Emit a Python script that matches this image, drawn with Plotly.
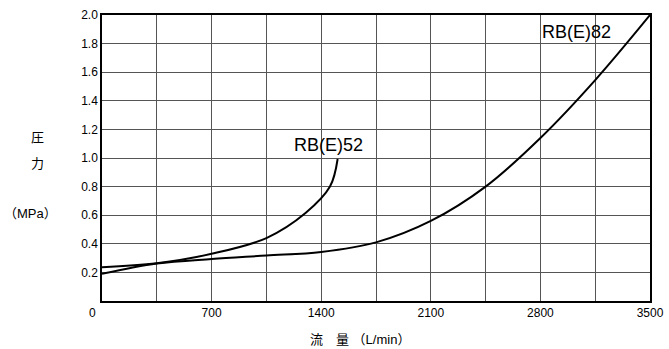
import plotly.graph_objects as go

# Data
flow_52 = [0, 350, 700, 1050, 1300, 1456, 1505]
pres_52 = [0.236, 0.264, 0.33, 0.44, 0.615, 0.80, 0.993]

flow_82 = [0, 350, 700, 1050, 1400, 1750, 2100, 2450, 2800, 3150, 3500]
pres_82 = [0.19, 0.262, 0.294, 0.318, 0.343, 0.41, 0.56, 0.80, 1.14, 1.545, 2.0]

x_grid = list(range(0, 3501, 350))
x_ticktext = ["" if (v == 0 or v % 700) else str(v) for v in x_grid]
y_grid = [round(0.2 * i, 1) for i in range(1, 11)]

FONT = "Liberation Sans, Arial, Noto Sans CJK JP"

W, H = 669, 349
L, R, T, B = 102, 19, 15, 48
pw, ph = W - L - R, H - T - B


def px_ann(text, px, py, size):
    return dict(text=text, x=(px - L) / pw, y=(H - B - py) / ph, xref="paper", yref="paper",
                xanchor="center", yanchor="middle", showarrow=False, font=dict(size=size))


fig = go.Figure()
fig.add_trace(go.Scatter(x=flow_52, y=pres_52, mode="lines",
                         line=dict(color="black", width=2, shape="spline", smoothing=1.0),
                         showlegend=False, hoverinfo="skip"))
fig.add_trace(go.Scatter(x=flow_82, y=pres_82, mode="lines",
                         line=dict(color="black", width=2, shape="spline", smoothing=1.0),
                         showlegend=False, hoverinfo="skip"))

fig.update_layout(
    width=W, height=H,
    margin=dict(l=L, r=R, t=T, b=B),
    paper_bgcolor="white", plot_bgcolor="white",
    font=dict(family=FONT, size=13, color="black"),
    xaxis=dict(range=[0, 3500], tickvals=x_grid, ticktext=x_ticktext, showgrid=True,
               gridcolor="#555", gridwidth=1, zeroline=False, showline=True, linecolor="black",
               linewidth=1.5, mirror=True, ticks="", tickfont=dict(size=12), automargin=False),
    yaxis=dict(range=[0, 2.0], tickvals=y_grid, tickformat=".1f", showgrid=True,
               gridcolor="#555", gridwidth=1, zeroline=False, showline=True, linecolor="black",
               linewidth=1.5, mirror=True, ticks="", tickfont=dict(size=12), automargin=False),
    annotations=[
        dict(text="RB(E)52", x=1215, y=1.09, xref="x", yref="y", xanchor="left", yanchor="middle",
             showarrow=False, font=dict(size=18)),
        dict(text="RB(E)82", x=2800, y=1.88, xref="x", yref="y", xanchor="left", yanchor="middle",
             showarrow=False, font=dict(size=18)),
        px_ann("0", 92, 313, 12),
        px_ann("圧", 37, 137, 13),
        px_ann("力", 37, 163, 13),
        px_ann("（MPa）", 30, 213, 13),
        px_ann("流　量 （L/min）", 360, 339, 13),
    ],
)

fig.write_html("out.html", config={"displayModeBar": False},
               post_script="document.body.style.margin='0';document.body.style.overflow='hidden';")
